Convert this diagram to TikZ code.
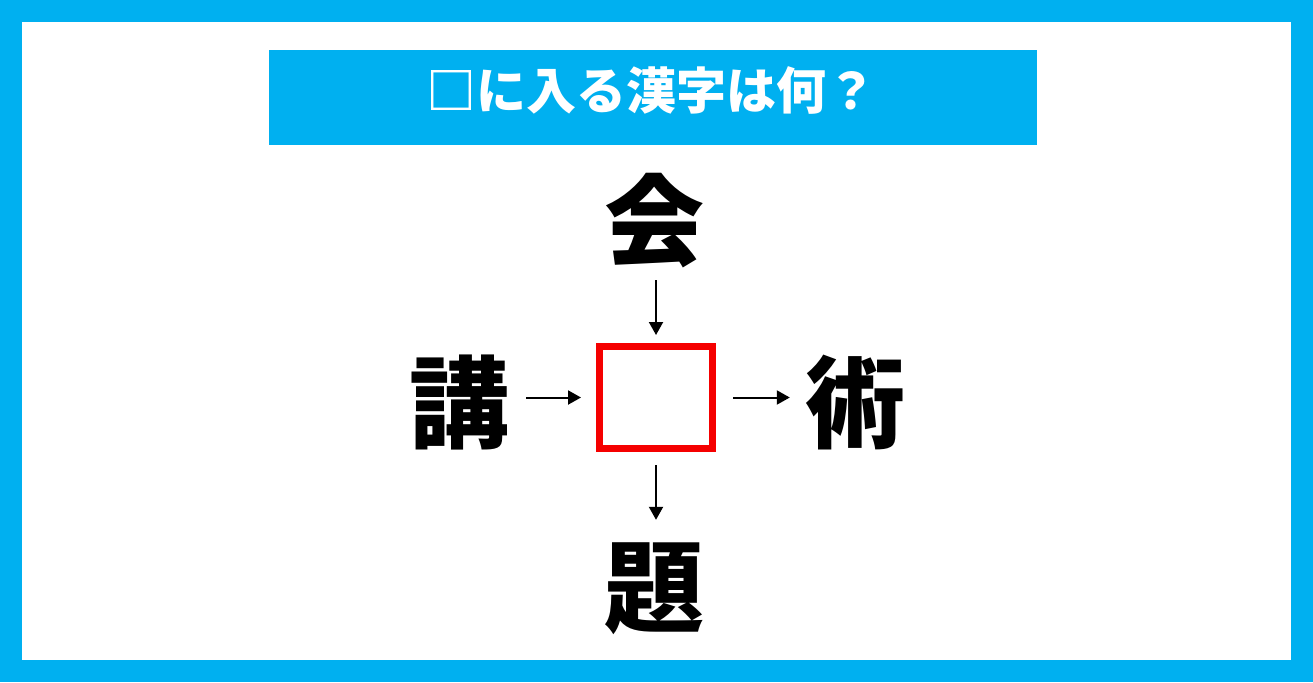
\documentclass[tikz,border=0pt]{standalone}
\usepackage{fontspec}
\usepackage{tikz}
\usetikzlibrary{arrows.meta}
\newfontfamily\cjk{Noto Sans CJK JP}
\definecolor{framecyan}{RGB}{0,176,240}
\definecolor{boxred}{RGB}{245,0,0}

\tikzset{
  kanji/.style={font=\cjk\bfseries\fontsize{100pt}{100pt}\selectfont,
    inner sep=0pt, text height=88pt, text depth=12pt, text width=100pt, align=center},
  arr/.style={-{Triangle[length=13pt,width=14pt]}, line width=2pt},
}

\begin{document}
\begin{tikzpicture}[x=1pt, y=-1pt]
      \useasboundingbox (0,0) rectangle (1313,682);
      % frame
      \fill[framecyan] (0,0) rectangle (1313,682);
      \fill[white] (22,22) rectangle (1291,660);
      % title bar
      \node[fill=framecyan, minimum width=768pt, minimum height=95pt, inner sep=0pt] (title) at (653,97.5) {};
      \node[text=white, inner sep=0pt, text height=44pt, text depth=6pt,
        font=\cjk\bfseries\fontsize{50pt}{50pt}\selectfont] (question) at (651,91) {□に入る漢字は何？};
      % blank box and the four kanji
      \node[draw=boxred, line width=7pt, minimum width=113pt, minimum height=102pt,
        inner sep=0pt] (blank) at (656,397.5) {};
      \node[kanji] (kai) at (654,220) {会};
      \node[kanji] (kou) at (459,402) {講};
      \node[kanji] (jutsu) at (855,402) {術};
      \node[kanji] (dai) at (654,586) {題};
      % arrows
      \draw[arr, shorten <=10pt, shorten >=8pt] (blank.north |- kai.south) -- (blank.north);
      \draw[arr, shorten <=17pt, shorten >=15pt] (blank.west -| kou.east) -- (blank.west);
      \draw[arr, shorten <=17pt, shorten >=15pt] (blank.east) -- (blank.east -| jutsu.west);
      \draw[arr, shorten <=13pt, shorten >=16pt] (blank.south) -- (blank.south |- dai.north);
    \end{tikzpicture}
\end{document}
